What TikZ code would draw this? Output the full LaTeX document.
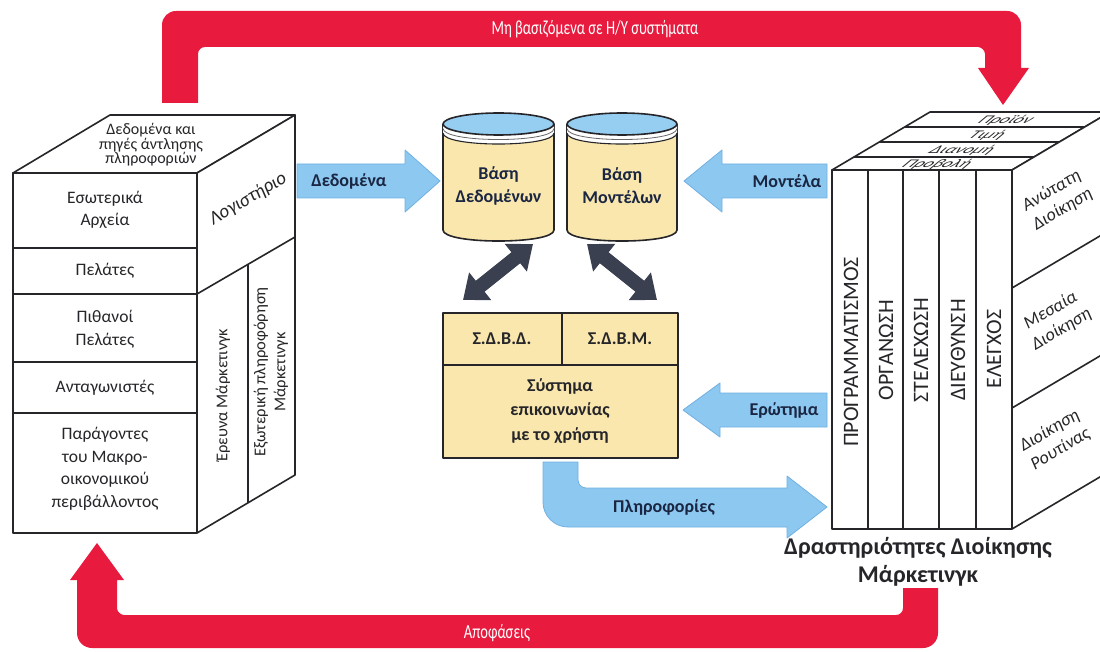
\documentclass[tikz,border=0pt]{standalone}
\usepackage{fontspec}
\setmainfont{Carlito}
\usetikzlibrary{arrows.meta}

\definecolor{signalred}{RGB}{232,26,62}
\definecolor{skyfill}{RGB}{140,200,240}
\definecolor{skyedge}{RGB}{112,176,226}
\definecolor{lidblue}{RGB}{150,206,242}
\definecolor{cream}{RGB}{250,231,174}
\definecolor{slate}{RGB}{58,64,80}
\definecolor{ink}{RGB}{38,38,42}
\definecolor{navy}{RGB}{26,38,66}

% database drum: centre x, half width
\newcommand{\drumshape}[2]{%
  \draw[edge, fill=cream] (#1-#2,124) -- (#1-#2,230)
    .. controls (#1-#2,244.7) and (#1+#2,244.7) .. (#1+#2,230) -- (#1+#2,124);
  \fill[white] (#1-#2,124) .. controls (#1-#2,138.7) and (#1+#2,138.7) .. (#1+#2,124)
    -- (#1+#2,133) .. controls (#1+#2,147.7) and (#1-#2,147.7) .. (#1-#2,133) -- cycle;
  \draw[ink!70, line width=0.8pt] (#1-#2,128.5) .. controls (#1-#2,143.2) and (#1+#2,143.2) .. (#1+#2,128.5);
  \draw[edge, line width=1.1pt] (#1-#2,133) .. controls (#1-#2,147.7) and (#1+#2,147.7) .. (#1+#2,133);
  \draw[edge, fill=lidblue] (#1,124) ellipse [x radius=#2, y radius=11];
}

\begin{document}
\begin{tikzpicture}[x=1pt,y=-1pt,
  edge/.style={draw=ink, line width=1.6pt, line join=round},
  redband/.style={fill=signalred},
  blueband/.style={fill=skyfill, draw=skyedge, line width=0.8pt, line join=round},
  linkarrow/.style={draw=slate, line width=14pt,
    {Triangle[width=34pt,length=22pt]}-{Triangle[width=34pt,length=22pt]}},
  celltext/.style={font=\fontsize{17.5}{22.5}\selectfont, text=ink, align=center, inner sep=0pt},
  celltextit/.style={celltext, font=\fontsize{19}{23}\selectfont\itshape},
  facetext/.style={celltext, font=\fontsize{18}{21.5}\selectfont\itshape, rotate=30.6},
  captext/.style={font=\fontsize{22}{26}\selectfont, text=ink, inner sep=0pt},
  striptext/.style={font=\fontsize{18}{18}\selectfont\itshape, text=ink, inner sep=0pt,
    xslant=1.0, yscale=0.65},
  boldlabel/.style={font=\fontsize{18}{23}\selectfont\bfseries, text=navy, align=center, inner sep=0pt},
  redtext/.style={font=\fontsize{20}{22}\selectfont, text=white, inner sep=0pt, xscale=0.73},
  titletext/.style={font=\fontsize{24}{28}\selectfont\bfseries, text=ink, align=center, inner sep=0pt}
]
\clip (0,0) rectangle (1100,652);
\fill[white] (0,0) rectangle (1100,652);

% ---------- red feedback loops ----------
\fill[redband] (162,103) -- (162,25) .. controls (162,17.27) and (168.27,11) .. (176,11)
  -- (1007,11) .. controls (1014.73,11) and (1021,17.27) .. (1021,25)
  -- (1021,68) -- (1029,68) -- (1003,105) -- (978,68) -- (985,68)
  -- (985,54) .. controls (985,50.14) and (981.14,47) .. (978,47)
  -- (205,47) .. controls (201.14,47) and (198,50.14) .. (198,54)
  -- (198,103) -- cycle;
\node[redtext] (manual) at (595,29) {Μη βασιζόμενα σε Η/Υ συστήματα};

\fill[redband] (97,543) -- (124,580) -- (117,580)
  -- (117,608) .. controls (117,611.86) and (120.86,615) .. (124,615)
  -- (896,615) .. controls (899.86,615) and (903,611.86) .. (903,608)
  -- (903,588) -- (938,588)
  -- (938,633) .. controls (938,641.28) and (931.28,648) .. (923,648)
  -- (92,648) .. controls (83.72,648) and (77,641.28) .. (77,633)
  -- (77,580) -- (70,580) -- cycle;
\node[redtext] (decisions) at (497,633) {Αποφάσεις};

% ---------- left block: data sources ----------
\draw[edge, fill=white] (13,173) -- (110,115) -- (295,115) -- (197,173) -- cycle;
\draw[edge, fill=white] (197,173) -- (295,115) -- (295,475) -- (197,533) -- cycle;
\draw[edge, fill=white] (13,173) rectangle (197,533);
\draw[edge] (13,248) -- (197,248);
\draw[edge] (13,294) -- (197,294);
\draw[edge] (13,362) -- (197,362);
\draw[edge] (13,413) -- (197,413);
\draw[edge] (197,294) -- (295,237);
\draw[edge] (248,264) -- (248,503);

\node[celltext, font=\fontsize{16}{14.5}\selectfont] (sources) at (151,145) {Δεδομένα και\\πηγές άντλησης\\πληροφοριών};
\node[celltext] (internal) at (105,210) {Εσωτερικά\\Αρχεία};
\node[celltext] (clients) at (105,271) {Πελάτες};
\node[celltext] (prospects) at (105,329) {Πιθανοί\\Πελάτες};
\node[celltext] (rivals) at (105,388) {Ανταγωνιστές};
\node[celltext] (macro) at (105,469) {Παράγοντες\\του Μακρο-\\οικονομικού\\περιβάλλοντος};
\node[celltextit, rotate=30.6] (accounting) at (248,199) {Λογιστήριο};
\node[celltext, font=\fontsize{16.5}{20}\selectfont, rotate=90] (research) at (223,395) {Έρευνα Μάρκετινγκ};
\node[celltext, font=\fontsize{16.5}{20}\selectfont, rotate=90] (external) at (271,372) {Εξωτερική πληροφόρηση\\Μάρκετινγκ};

% ---------- databases ----------
\drumshape{498.5}{55.5}
\drumshape{622}{55}
\node[boldlabel] (database) at (498.5,186) {Βάση\\Δεδομένων};
\node[boldlabel] (modelbase) at (622,186) {Βάση\\Μοντέλων};

% ---------- input arrows ----------
\fill[blueband] (297,164) -- (405,164) -- (405,150) -- (440,181) -- (405,212) -- (405,198) -- (297,198) -- cycle;
\node[boldlabel] (datain) at (349,181) {Δεδομένα};
\fill[blueband] (827,164) -- (722,164) -- (722,150) -- (684,181) -- (722,212) -- (722,198) -- (827,198) -- cycle;
\node[boldlabel] (modelsin) at (787,181) {Μοντέλα};

% ---------- management system block ----------
\draw[edge, fill=cream] (443,313) rectangle (678,458);
\draw[edge] (443,365) -- (678,365);
\draw[edge] (562,313) -- (562,365);
\node[boldlabel, text=ink] (dbms) at (502,339) {Σ.Δ.Β.Δ.};
\node[boldlabel, text=ink] (mbms) at (620,339) {Σ.Δ.Β.Μ.};
\node[boldlabel, text=ink, font=\fontsize{18}{24.5}\selectfont\bfseries] (dialog) at (560,411) {Σύστημα\\επικοινωνίας\\με το χρήστη};

% ---------- links between databases and the system ----------
\coordinate (dbend) at (533,244);
\coordinate (dbsys) at (463,300);
\coordinate (mbend) at (587,244);
\coordinate (mbsys) at (657,300);
\draw[linkarrow] (dbend) -- (dbsys);
\draw[linkarrow] (mbend) -- (mbsys);

% ---------- query and information arrows ----------
\fill[blueband] (827,393) -- (720,393) -- (720,383) -- (683,410) -- (720,437) -- (720,427) -- (827,427) -- cycle;
\node[boldlabel] (query) at (784,410) {Ερώτημα};
\fill[blueband] (543,462) -- (578,462)
  -- (578,480) .. controls (578,484.4) and (581.6,488) .. (586,488)
  -- (787,488) -- (787,476) -- (827,507) -- (787,538) -- (787,527)
  -- (568,527) .. controls (554.2,527) and (543,515.8) .. (543,502) -- cycle;
\node[boldlabel] (info) at (664,507) {Πληροφορίες};

% ---------- right block: marketing management ----------
\draw[edge, fill=white] (832,170) -- (930,112) -- (1110,112) -- (1012,170) -- cycle;
\draw[edge, fill=white] (1012,170) -- (1110,112) -- (1110,471) -- (1012,529) -- cycle;
\draw[edge, fill=white] (832,170) rectangle (1012,529);
\draw[edge] (854,157) -- (1034,157);
\draw[edge] (879,142) -- (1059,142);
\draw[edge] (905,127) -- (1085,127);
\foreach \cx in {868,903,939,976} \draw[edge] (\cx,170) -- (\cx,529);
\draw[edge] (1012,288) -- (1110,230);
\draw[edge] (1012,408) -- (1110,350);

\node[striptext] (product) at (1006,120) {Προϊόν};
\node[striptext] (price) at (987,135) {Τιμή};
\node[striptext] (place) at (962,150) {Διανομή};
\node[striptext] (promotion) at (937,164) {Προβολή};

\node[captext, rotate=90] (planning) at (851,352) {ΠΡΟΓΡΑΜΜΑΤΙΣΜΟΣ};
\node[captext, rotate=90] (organising) at (886,350) {ΟΡΓΑΝΩΣΗ};
\node[captext, rotate=90] (staffing) at (921,350) {ΣΤΕΛΕΧΩΣΗ};
\node[captext, rotate=90] (directing) at (958,350) {ΔΙΕΥΘΥΝΣΗ};
\node[captext, rotate=90] (control) at (994,349) {ΕΛΕΓΧΟΣ};

\node[facetext] (senior) at (1057,200) {Ανώτατη\\Διοίκηση};
\node[facetext] (middle) at (1056,320) {Μεσαία\\Διοίκηση};
\node[facetext] (routine) at (1055,440) {Διοίκηση\\Ρουτίνας};

\node[titletext] (activities) at (918,562) {Δραστηριότητες Διοίκησης\\Μάρκετινγκ};
\end{tikzpicture}
\end{document}
